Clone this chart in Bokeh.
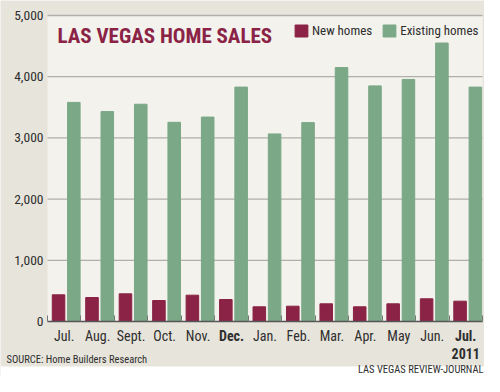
from bokeh.plotting import figure
from bokeh.models import (Range1d, FixedTicker, NumeralTickFormatter, Label,
                          BoxAnnotation, Legend, LegendItem, ColumnDataSource)
from bokeh.embed import file_html
from bokeh.resources import INLINE
import numpy as np

# ---- data ----
months = ["Jul.", "Aug.", "Sept.", "Oct.", "Nov.", "Dec.", "Jan.", "Feb.",
          "Mar.", "Apr.", "May", "Jun.", "Jul.\n2011"]
bold_months = ["Dec.", "Jul.\n2011"]
new_homes = [436, 392, 452, 343, 430, 359, 240, 250, 289, 240, 289, 371, 332]
existing_homes = [3580, 3430, 3550, 3255, 3340, 3830, 3065, 3250, 4150, 3850,
                  3955, 4550, 3830]
y_ticks = [0, 1000, 2000, 3000, 4000, 5000]
y_max = 5000
title_text = "LAS VEGAS HOME SALES"
source_text = "SOURCE: Home Builders Research"
credit_text = "LAS VEGAS REVIEW-JOURNAL"

# ---- styles / geometry ----
FONT = ("'Liberation Sans Narrow', 'Roboto Condensed', 'Noto Sans Condensed', "
        "'Open Sans Condensed', 'DejaVu Sans Condensed', sans-serif")
MAROON = "#8a2345"
GREEN = "#7ba886"
BEIGE = "#e7e4db"
PANEL = "#f3f2ed"
TEXT = "#2e2e2e"
W, H = 484, 376
PL, PR, PT, PB = 47, 482, 15, 321   # panel edges in canvas pixels
XSTAND = 6

n = len(months)
ppx = (PR - PL) / n
ppy = (PB - PT) / y_max
x_range = Range1d(-PL / ppx, n + (W - PR) / ppx)
y_range = Range1d(-(H - PB) / ppy, y_max + PT / ppy)

idx = np.arange(n)
src = ColumnDataSource(dict(
    x_new=idx + 0.33, x_old=idx + 0.787,
    new=new_homes, old=existing_homes))

p = figure(width=W, height=H, output_backend="svg", toolbar_location=None,
           x_range=x_range, y_range=y_range, min_border=0)
p.border_fill_color = BEIGE
p.background_fill_color = BEIGE
p.outline_line_color = None
p.xgrid.visible = False
p.ygrid.visible = False

# light panel and grid lines
p.quad(left=[0], right=[n], bottom=[0], top=[y_max],
       fill_color=PANEL, line_color=None)
p.segment(x0=[0] * (len(y_ticks) - 1), x1=[n] * (len(y_ticks) - 1),
          y0=y_ticks[1:], y1=y_ticks[1:], line_color="#b0afaa", line_width=1.3)

r_new = p.vbar(x="x_new", top="new", width=0.375, source=src,
               fill_color=MAROON, line_color=MAROON)
r_old = p.vbar(x="x_old", top="old", width=0.375, source=src,
               fill_color=GREEN, line_color=GREEN)

# axes
xa = p.xaxis[0]
xa.fixed_location = 0
xa.bounds = (0, n)
xa.ticker = FixedTicker(ticks=list(idx + 0.5), minor_ticks=list(range(n + 1)))
xa.major_label_overrides = {float(i + 0.5): ("" if m in bold_months else m)
                            for i, m in enumerate(months)}
xa.axis_line_color = "#555555"
xa.axis_line_width = 1.5
xa.major_tick_in = 0
xa.major_tick_out = 0
xa.major_tick_line_color = None
xa.minor_tick_in = 6
xa.minor_tick_out = 0
xa.minor_tick_line_color = "#777777"
xa.major_label_standoff = XSTAND
xa.major_label_text_font = FONT
xa.major_label_text_font_size = "14px"
xa.major_label_text_color = TEXT

ya = p.yaxis[0]
ya.fixed_location = 0
ya.ticker = FixedTicker(ticks=y_ticks)
ya.formatter = NumeralTickFormatter(format="0,0")
ya.axis_line_color = None
ya.major_tick_line_color = None
ya.major_tick_in = 0
ya.major_tick_out = 0
ya.minor_tick_line_color = None
ya.major_label_standoff = 4
ya.major_label_text_font = FONT
ya.major_label_text_font_size = "13.5px"
ya.major_label_text_color = TEXT

# bold tick labels
for i, m in enumerate(months):
    if m in bold_months:
        p.add_layout(Label(x=i + 0.5, y=H - PB - XSTAND, x_units="data",
                           y_units="screen", text=m, text_align="center",
                           text_baseline="top", text_font=FONT,
                           text_font_size="14px", text_font_style="bold",
                           text_color=TEXT, text_line_height=1.15))

# title
p.add_layout(Label(x=57, y=H - 35, x_units="screen", y_units="screen",
                   text=title_text, text_font=FONT, text_font_size="21px",
                   text_font_style="bold", text_color=MAROON,
                   text_baseline="alphabetic"))

# legend
legend = Legend(items=[LegendItem(label="New homes", renderers=[r_new]),
                       LegendItem(label="Existing homes", renderers=[r_old])],
                orientation="horizontal", location=(293, H - 38),
                background_fill_alpha=0, border_line_alpha=0,
                glyph_width=16, glyph_height=15, label_standoff=3,
                spacing=9, padding=0, margin=0, label_height=15,
                label_text_font=FONT, label_text_font_size="13px",
                label_text_color=TEXT)
p.add_layout(legend)

# white strip at the bottom
p.add_layout(BoxAnnotation(top=H - 366, top_units="screen",
                           fill_color="white", fill_alpha=1, line_color=None))

p.add_layout(Label(x=6, y=H - 365, x_units="screen", y_units="screen",
                   text=source_text, text_font=FONT, text_font_size="10.5px",
                   text_color=TEXT))
p.add_layout(Label(x=483, y=H - 375, x_units="screen", y_units="screen",
                   text=credit_text, text_font=FONT, text_font_size="10.5px",
                   text_color=TEXT, text_align="right"))

open("out.html", "w").write(file_html(p, INLINE))
